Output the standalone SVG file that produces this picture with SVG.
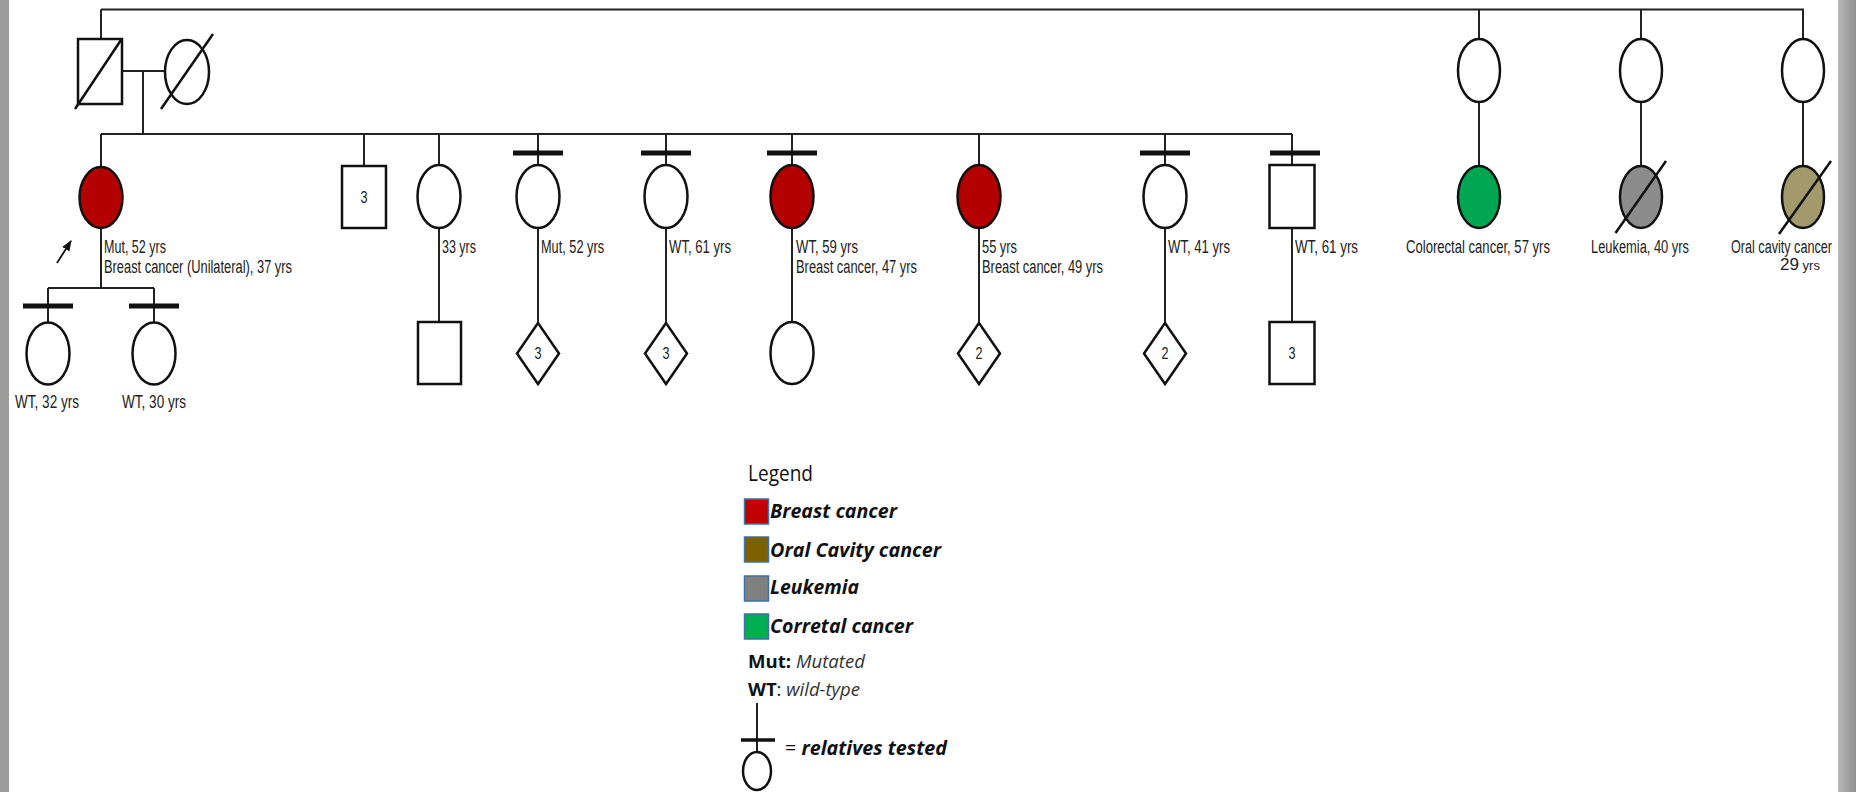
<svg xmlns="http://www.w3.org/2000/svg" width="1856" height="792" viewBox="0 0 1856 792">
<defs>
<style>
.ln{stroke:#222;stroke-width:2;fill:none}
.sym{fill:#fff;stroke:#111;stroke-width:2.5}
.bar{stroke:#111;stroke-width:5}
.sl{stroke:#111;stroke-width:2.5}
.lbl{font-family:"Liberation Sans",Arial,sans-serif;font-size:18px;fill:#222}
.num{font-family:"Liberation Sans",Arial,sans-serif;font-size:16px;fill:#222;text-anchor:middle}
.lg{font-family:"Open Sans","Liberation Sans",sans-serif;fill:#111}
.bi{font-weight:bold;font-style:italic}
.sw{stroke:#41719c;stroke-width:1.5}
</style>
<marker id="ah" viewBox="0 0 10 10" refX="9" refY="5" markerWidth="6" markerHeight="6" orient="auto">
<path d="M0,1 L10,5 L0,9 Z" fill="#111"/>
</marker>
<linearGradient id="rg" x1="0" x2="1" y1="0" y2="0">
<stop offset="0" stop-color="#b8b8b8"/><stop offset="1" stop-color="#8f8f8f"/>
</linearGradient>
</defs>
<rect x="0" y="0" width="1856" height="792" fill="#fff"/>
<rect x="0" y="0" width="9" height="792" fill="#9b9b9b"/>
<rect x="1838" y="0" width="18" height="792" fill="url(#rg)"/>

<g id="connectors">
<line class="ln" x1="101" y1="9.5" x2="1804" y2="9.5"/>
<line class="ln" x1="101" y1="9.5" x2="101" y2="39"/>
<line class="ln" x1="1479" y1="9.5" x2="1479" y2="39"/>
<line class="ln" x1="1641" y1="9.5" x2="1641" y2="39"/>
<line class="ln" x1="1803" y1="9.5" x2="1803" y2="39"/>
<line class="ln" x1="1479" y1="102" x2="1479" y2="166"/>
<line class="ln" x1="1641" y1="102" x2="1641" y2="166"/>
<line class="ln" x1="1803" y1="102" x2="1803" y2="166"/>
<line class="ln" x1="122" y1="71" x2="165" y2="71"/>
<line class="ln" x1="143" y1="71" x2="143" y2="134"/>
<line class="ln" x1="101" y1="134" x2="1292" y2="134"/>
<line class="ln" x1="101" y1="134" x2="101" y2="167"/>
<line class="ln" x1="101" y1="228" x2="101" y2="288"/>
<line class="ln" x1="48" y1="288" x2="154" y2="288"/>
<line class="ln" x1="48" y1="288" x2="48" y2="322"/>
<line class="ln" x1="154" y1="288" x2="154" y2="322"/>
<line class="ln" x1="364" y1="134" x2="364" y2="166"/>
<line class="ln" x1="439" y1="134" x2="439" y2="165"/>
<line class="ln" x1="439" y1="228" x2="439" y2="322"/>
<line class="ln" x1="538" y1="134" x2="538" y2="165"/>
<line class="ln" x1="538" y1="228" x2="538" y2="323"/>
<line class="ln" x1="666" y1="134" x2="666" y2="165"/>
<line class="ln" x1="666" y1="228" x2="666" y2="323"/>
<line class="ln" x1="792" y1="134" x2="792" y2="165"/>
<line class="ln" x1="792" y1="228" x2="792" y2="322"/>
<line class="ln" x1="979" y1="134" x2="979" y2="165"/>
<line class="ln" x1="979" y1="228" x2="979" y2="323"/>
<line class="ln" x1="1165" y1="134" x2="1165" y2="165"/>
<line class="ln" x1="1165" y1="228" x2="1165" y2="323"/>
<line class="ln" x1="1292" y1="134" x2="1292" y2="165"/>
<line class="ln" x1="1292" y1="228" x2="1292" y2="322"/>
<line x1="57" y1="263" x2="71" y2="241" stroke="#111" stroke-width="1.8" marker-end="url(#ah)"/>
</g>

<g id="father">
<rect class="sym" x="78" y="39" width="44" height="65"/>
<line class="sl" x1="75" y1="109" x2="121" y2="40"/>
</g>
<g id="mother">
<ellipse class="sym" cx="187" cy="72" rx="22" ry="32"/>
<line class="sl" x1="161" y1="109" x2="213" y2="34"/>
</g>

<g id="proband">
<ellipse class="sym" cx="101" cy="197.5" rx="21.5" ry="30.5" style="fill:#b30000"/>
<text class="lbl" x="104" y="253" textLength="62" lengthAdjust="spacingAndGlyphs">Mut, 52 yrs</text>
<text class="lbl" x="104" y="272.5" textLength="188" lengthAdjust="spacingAndGlyphs">Breast cancer (Unilateral), 37 yrs</text>
</g>
<g id="child1">
<line class="bar" x1="23" y1="306" x2="73" y2="306"/>
<ellipse class="sym" cx="48" cy="353.5" rx="21.5" ry="31"/>
<text class="lbl" x="15" y="408" textLength="64" lengthAdjust="spacingAndGlyphs">WT, 32 yrs</text>
</g>
<g id="child2">
<line class="bar" x1="129" y1="306" x2="179" y2="306"/>
<ellipse class="sym" cx="154" cy="353.5" rx="21.5" ry="31"/>
<text class="lbl" x="122" y="408" textLength="64" lengthAdjust="spacingAndGlyphs">WT, 30 yrs</text>
</g>

<g id="sib2">
<rect class="sym" x="342" y="166" width="44" height="62"/>
<text class="num" x="364" y="203" textLength="7" lengthAdjust="spacingAndGlyphs">3</text>
</g>
<g id="sib3">
<ellipse class="sym" cx="439" cy="196.5" rx="21.5" ry="31.5"/>
<text class="lbl" x="442" y="253" textLength="34" lengthAdjust="spacingAndGlyphs">33 yrs</text>
</g>
<g id="sib3child">
<rect class="sym" x="418" y="322" width="43" height="62"/>
</g>
<g id="sib4">
<line class="bar" x1="513" y1="153" x2="563" y2="153"/>
<ellipse class="sym" cx="538" cy="196.5" rx="21.5" ry="31.5"/>
<text class="lbl" x="541" y="253" textLength="63" lengthAdjust="spacingAndGlyphs">Mut, 52 yrs</text>
</g>
<g id="sib4child">
<polygon class="sym" points="538,323 559,353.5 538,384 517,353.5"/>
<text class="num" x="538" y="359" textLength="7" lengthAdjust="spacingAndGlyphs">3</text>
</g>
<g id="sib5">
<line class="bar" x1="641" y1="153" x2="691" y2="153"/>
<ellipse class="sym" cx="666" cy="196.5" rx="21.5" ry="31.5"/>
<text class="lbl" x="669" y="253" textLength="62" lengthAdjust="spacingAndGlyphs">WT, 61 yrs</text>
</g>
<g id="sib5child">
<polygon class="sym" points="666,323 687,353.5 666,384 645,353.5"/>
<text class="num" x="666" y="359" textLength="7" lengthAdjust="spacingAndGlyphs">3</text>
</g>
<g id="sib6">
<line class="bar" x1="767" y1="153" x2="817" y2="153"/>
<ellipse class="sym" cx="792" cy="196.5" rx="21.5" ry="31.5" style="fill:#b30000"/>
<text class="lbl" x="796" y="253" textLength="62" lengthAdjust="spacingAndGlyphs">WT, 59 yrs</text>
<text class="lbl" x="796" y="272.5" textLength="121" lengthAdjust="spacingAndGlyphs">Breast cancer, 47 yrs</text>
</g>
<g id="sib6child">
<ellipse class="sym" cx="792" cy="353" rx="21.5" ry="31"/>
</g>
<g id="sib7">
<ellipse class="sym" cx="979" cy="196.5" rx="21.5" ry="31.5" style="fill:#b30000"/>
<text class="lbl" x="982" y="253" textLength="35" lengthAdjust="spacingAndGlyphs">55 yrs</text>
<text class="lbl" x="982" y="272.5" textLength="121" lengthAdjust="spacingAndGlyphs">Breast cancer, 49 yrs</text>
</g>
<g id="sib7child">
<polygon class="sym" points="979,323 1000,353.5 979,384 958,353.5"/>
<text class="num" x="979" y="359" textLength="7" lengthAdjust="spacingAndGlyphs">2</text>
</g>
<g id="sib8">
<line class="bar" x1="1140" y1="153" x2="1190" y2="153"/>
<ellipse class="sym" cx="1165" cy="196.5" rx="21.5" ry="31.5"/>
<text class="lbl" x="1168" y="253" textLength="62" lengthAdjust="spacingAndGlyphs">WT, 41 yrs</text>
</g>
<g id="sib8child">
<polygon class="sym" points="1165,323 1186,353.5 1165,384 1144,353.5"/>
<text class="num" x="1165" y="359" textLength="7" lengthAdjust="spacingAndGlyphs">2</text>
</g>
<g id="sib9">
<line class="bar" x1="1270" y1="153" x2="1320" y2="153"/>
<rect class="sym" x="1269.5" y="165" width="45" height="63"/>
<text class="lbl" x="1295" y="253" textLength="63" lengthAdjust="spacingAndGlyphs">WT, 61 yrs</text>
</g>
<g id="sib9child">
<rect class="sym" x="1269.5" y="322" width="45" height="62"/>
<text class="num" x="1292" y="359" textLength="7" lengthAdjust="spacingAndGlyphs">3</text>
</g>

<g id="aunt1">
<ellipse class="sym" cx="1479" cy="70.5" rx="21" ry="31.5"/>
</g>
<g id="aunt1child">
<ellipse class="sym" cx="1479" cy="197" rx="21" ry="31" style="fill:#00a651"/>
<text class="lbl" x="1406" y="253" textLength="144" lengthAdjust="spacingAndGlyphs">Colorectal cancer, 57 yrs</text>
</g>
<g id="aunt2">
<ellipse class="sym" cx="1641" cy="70.5" rx="21" ry="31.5"/>
</g>
<g id="aunt2child">
<ellipse class="sym" cx="1641" cy="197" rx="21" ry="31" style="fill:#8c8c8c"/>
<line class="sl" x1="1615.5" y1="233" x2="1666" y2="161"/>
<text class="lbl" x="1591" y="253" textLength="98" lengthAdjust="spacingAndGlyphs">Leukemia, 40 yrs</text>
</g>
<g id="aunt3">
<ellipse class="sym" cx="1803" cy="70.5" rx="21" ry="31.5"/>
</g>
<g id="aunt3child">
<ellipse class="sym" cx="1803" cy="197" rx="21" ry="31" style="fill:#a39a6b"/>
<line class="sl" x1="1779" y1="234" x2="1831" y2="161"/>
<text class="lbl" x="1731" y="253" textLength="101" lengthAdjust="spacingAndGlyphs">Oral cavity cancer</text>
<text class="lbl" x="1780" y="270" textLength="40" lengthAdjust="spacingAndGlyphs"><tspan font-size="17">29</tspan><tspan font-size="13"> yrs</tspan></text>
</g>

<g id="legend">
<text class="lg" x="748" y="481" font-size="21" textLength="65" lengthAdjust="spacingAndGlyphs">Legend</text>
<rect class="sw" x="744.5" y="499" width="24" height="25" fill="#c00000"/>
<text class="lg bi" x="770" y="518" font-size="20" textLength="127" lengthAdjust="spacingAndGlyphs">Breast cancer</text>
<rect class="sw" x="744.5" y="537" width="24" height="25" fill="#7f6000"/>
<text class="lg bi" x="770" y="557" font-size="20" textLength="171" lengthAdjust="spacingAndGlyphs">Oral  Cavity cancer</text>
<rect class="sw" x="744.5" y="576" width="24" height="25" fill="#808080"/>
<text class="lg bi" x="770" y="594" font-size="20" textLength="89" lengthAdjust="spacingAndGlyphs">Leukemia</text>
<rect class="sw" x="744.5" y="614" width="24" height="25" fill="#00b050"/>
<text class="lg bi" x="770" y="633" font-size="20" textLength="143" lengthAdjust="spacingAndGlyphs">Corretal cancer</text>
<text class="lg" x="748" y="668" font-size="18" textLength="117" lengthAdjust="spacingAndGlyphs"><tspan font-weight="bold">Mut:</tspan><tspan font-style="italic" fill="#333"> Mutated</tspan></text>
<text class="lg" x="748" y="696" font-size="18" textLength="112" lengthAdjust="spacingAndGlyphs"><tspan font-weight="bold">WT</tspan><tspan>:</tspan><tspan font-style="italic" fill="#333"> wild-type</tspan></text>
<line class="ln" x1="757" y1="703" x2="757" y2="752"/>
<line x1="741" y1="740" x2="775" y2="740" stroke="#111" stroke-width="3.5"/>
<ellipse cx="757" cy="771" rx="14" ry="19" fill="#fff" stroke="#111" stroke-width="2.5"/>
<text class="lg" x="785" y="755" font-size="20" textLength="162" lengthAdjust="spacingAndGlyphs"><tspan>= </tspan><tspan class="bi">relatives tested</tspan></text>
</g>
</svg>
